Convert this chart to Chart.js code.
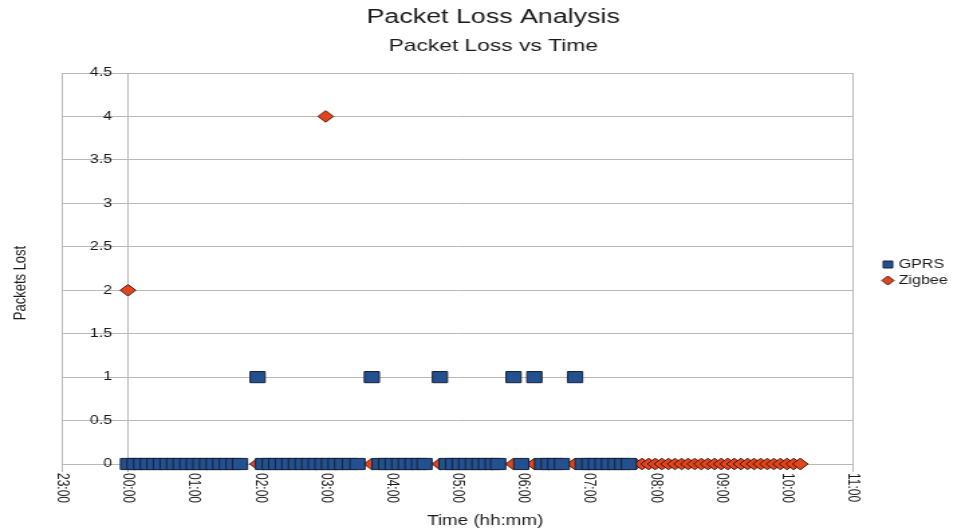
<!DOCTYPE html>
<html>
<head>
<meta charset="utf-8">
<script src="https://cdn.jsdelivr.net/npm/chart.js@4/dist/chart.umd.min.js"></script>
<style>
  html, body { margin: 0; padding: 0; background: #ffffff; overflow: hidden; }
  /* the chart is laid out on a narrower canvas and widened horizontally */
  #frame { width: 723px; height: 530px; transform: scaleX(1.34025); transform-origin: 0 0; }
</style>
</head>
<body>
<div id="frame"><canvas id="chart"></canvas></div>
<script>
// ---- texts ----
const chartTitle = 'Packet Loss Analysis';
const chartSubtitle = 'Packet Loss vs Time';
const xAxisTitle = 'Time (hh:mm)';
const yAxisTitle = 'Packets Lost';

// ---- x axis tick labels (hours from 23:00 to 11:00) ----
const hourLabels = ['23:00', '00:00', '01:00', '02:00', '03:00', '04:00', '05:00',
                    '06:00', '07:00', '08:00', '09:00', '10:00', '11:00'];

// ---- GPRS samples: time and packets lost ----
const gprsTimes = [
  '00:00', '00:06', '00:12', '00:18', '00:24', '00:30', '00:36', '00:42', '00:48', '00:54',
  '01:00', '01:06', '01:12', '01:18', '01:24', '01:30', '01:36', '01:42',
  '01:58',
  '02:03', '02:09', '02:15', '02:21', '02:27', '02:33', '02:39', '02:45', '02:51', '02:57',
  '03:03', '03:09', '03:15', '03:22', '03:29',
  '03:42',
  '03:49', '03:55', '04:01', '04:07', '04:13', '04:19', '04:25', '04:30',
  '04:44',
  '04:50', '04:56', '05:02', '05:08', '05:14', '05:20', '05:26', '05:32', '05:37',
  '05:51',
  '05:58',
  '06:10',
  '06:17', '06:23', '06:29', '06:35',
  '06:47',
  '06:54', '07:00', '07:06', '07:12', '07:18', '07:24', '07:30', '07:36'
];
const gprsLost = [
  0, 0, 0, 0, 0, 0, 0, 0, 0, 0,
  0, 0, 0, 0, 0, 0, 0, 0,
  1,
  0, 0, 0, 0, 0, 0, 0, 0, 0, 0,
  0, 0, 0, 0, 0,
  1,
  0, 0, 0, 0, 0, 0, 0, 0,
  1,
  0, 0, 0, 0, 0, 0, 0, 0, 0,
  1,
  0,
  1,
  0, 0, 0, 0,
  1,
  0, 0, 0, 0, 0, 0, 0, 0
];

// ---- Zigbee samples: time and packets lost ----
const zigbeeTimes = [
  '00:00', '00:06', '00:12', '00:18', '00:24', '00:30', '00:36', '00:42', '00:48', '00:54',
  '01:00', '01:06', '01:12', '01:18', '01:24', '01:30', '01:36', '01:42',
  '01:58',
  '02:03', '02:09', '02:15', '02:21', '02:27', '02:33', '02:39', '02:45', '02:51', '02:57',
  '03:00',
  '03:03', '03:09', '03:15', '03:22', '03:29',
  '03:42',
  '03:49', '03:55', '04:01', '04:07', '04:13', '04:19', '04:25', '04:30',
  '04:44',
  '04:50', '04:56', '05:02', '05:08', '05:14', '05:20', '05:26', '05:32', '05:37',
  '05:51',
  '05:58',
  '06:10',
  '06:17', '06:23', '06:29', '06:35',
  '06:47',
  '06:54', '07:00', '07:06', '07:12', '07:18', '07:24', '07:30', '07:36',
  '07:42', '07:48', '07:54', '08:00', '08:06', '08:12', '08:18', '08:24', '08:30', '08:36',
  '08:42', '08:48', '08:54', '09:00', '09:06', '09:12', '09:18', '09:24', '09:30', '09:36',
  '09:42', '09:48', '09:54', '10:00', '10:06', '10:12'
];
const zigbeeLost = [
  2, 0, 0, 0, 0, 0, 0, 0, 0, 0,
  0, 0, 0, 0, 0, 0, 0, 0,
  0,
  0, 0, 0, 0, 0, 0, 0, 0, 0, 0,
  4,
  0, 0, 0, 0, 0,
  0,
  0, 0, 0, 0, 0, 0, 0, 0,
  0,
  0, 0, 0, 0, 0, 0, 0, 0, 0,
  0,
  0,
  0,
  0, 0, 0, 0,
  0,
  0, 0, 0, 0, 0, 0, 0, 0,
  0, 0, 0, 0, 0, 0, 0, 0, 0, 0,
  0, 0, 0, 0, 0, 0, 0, 0, 0, 0,
  0, 0, 0, 0, 0, 0
];

// ---- styling ----
const FONT = '"Liberation Sans", Arial, Helvetica, sans-serif';
const TEXT = '#1a1a1a';
const GRID = '#b9b9b9';
const GPRS_FILL = '#23508e', GPRS_EDGE = '#18223a';
const ZIG_FILL = '#e4441d', ZIG_EDGE = '#3e170c';

const toHours = s => { const [h, m] = s.split(':').map(Number); return h + m / 60; };
const toPoints = (times, values) => times.map((t, i) => ({ x: toHours(t), y: values[i] }));

Chart.defaults.font.family = FONT;
Chart.defaults.color = TEXT;

function markerPath(ctx, style, cx, cy, r) {
  ctx.beginPath();
  if (style === 'rect') {
    ctx.rect(cx - r, cy - r, 2 * r, 2 * r);
  } else {
    ctx.moveTo(cx - r, cy);
    ctx.lineTo(cx, cy - r);
    ctx.lineTo(cx + r, cy);
    ctx.lineTo(cx, cy + r);
    ctx.closePath();
  }
}

// titles, axis titles, downward-reading hour labels and the legend
const decorations = {
  id: 'decorations',
  afterDraw(chart) {
    const { ctx, chartArea, scales } = chart;
    const xs = scales.x;
    ctx.save();
    ctx.fillStyle = TEXT;
    ctx.textAlign = 'center';
    ctx.textBaseline = 'middle';

    ctx.font = `20px ${FONT}`;
    ctx.fillText(chartTitle, 368, 17);
    ctx.font = `17px ${FONT}`;
    ctx.fillText(chartSubtitle, 368, 46);

    ctx.font = `14px ${FONT}`;
    ctx.fillText(xAxisTitle, 362, 521);

    ctx.save();
    ctx.translate(15, 283);
    ctx.rotate(-Math.PI / 2);
    ctx.font = `13px ${FONT}`;
    ctx.fillText(yAxisTitle, 0, 0);
    ctx.restore();

    ctx.font = `12px ${FONT}`;
    ctx.textAlign = 'left';
    xs.ticks.forEach((tick, i) => {
      ctx.save();
      ctx.translate(xs.getPixelForValue(tick.value), chartArea.bottom + 9);
      ctx.rotate(Math.PI / 2);
      ctx.fillText(hourLabels[i], 0, 0);
      ctx.restore();
    });

    // legend
    const mid = (chartArea.top + chartArea.bottom) / 2;
    chart.data.datasets.forEach((ds, i) => {
      const y = mid - 4 + i * 16;
      const square = ds.pointStyle === 'rect';
      ctx.fillStyle = ds.backgroundColor;
      ctx.strokeStyle = ds.borderColor;
      ctx.lineWidth = 1;
      markerPath(ctx, square ? 'rect' : 'diamond', 662.5, y, square ? 3.5 : 4.5);
      ctx.fill();
      ctx.stroke();
      ctx.fillStyle = TEXT;
      ctx.font = `12px ${FONT}`;
      ctx.fillText(ds.label, 670.5, y);
    });
    ctx.restore();
  }
};

// vertical rules only at the plot edges and at midnight
const edgeHours = [-1, 0, 11];

new Chart(document.getElementById('chart'), {
  type: 'scatter',
  data: {
    datasets: [
      {
        label: 'GPRS',
        data: toPoints(gprsTimes, gprsLost),
        pointStyle: 'rect',
        pointRadius: 7.9,
        pointHoverRadius: 7.9,
        backgroundColor: GPRS_FILL,
        borderColor: GPRS_EDGE,
        borderWidth: 1,
        clip: false
      },
      {
        label: 'Zigbee',
        data: toPoints(zigbeeTimes, zigbeeLost),
        pointStyle: 'rectRot',
        pointRadius: 5.8,
        pointHoverRadius: 5.8,
        backgroundColor: ZIG_FILL,
        borderColor: ZIG_EDGE,
        borderWidth: 1,
        clip: false
      }
    ]
  },
  options: {
    responsive: true,
    maintainAspectRatio: false,
    animation: false,
    events: [],
    layout: { padding: { left: 46.3, right: 86.6, top: 73, bottom: 0 } },
    plugins: {
      legend: { display: false },
      title: { display: false },
      tooltip: { enabled: false }
    },
    scales: {
      x: {
        type: 'linear',
        position: 'bottom',
        min: -1,
        max: 11,
        afterFit(scale) { scale.height = 66; },
        ticks: { stepSize: 1, display: false },
        grid: {
          color: c => (c.tick && edgeHours.includes(c.tick.value)) ? GRID : 'rgba(0,0,0,0)',
          tickLength: 8
        },
        border: { color: GRID }
      },
      y: {
        type: 'linear',
        // value labels sit just left of the midnight rule
        position: { x: -0.24 },
        min: 0,
        max: 4.5,
        ticks: {
          stepSize: 0.5,
          color: TEXT,
          font: { size: 12 },
          callback: v => String(Number(v))
        },
        grid: { color: GRID, drawTicks: false },
        border: { display: false }
      }
    }
  },
  plugins: [decorations]
});
</script>
</body>
</html>
